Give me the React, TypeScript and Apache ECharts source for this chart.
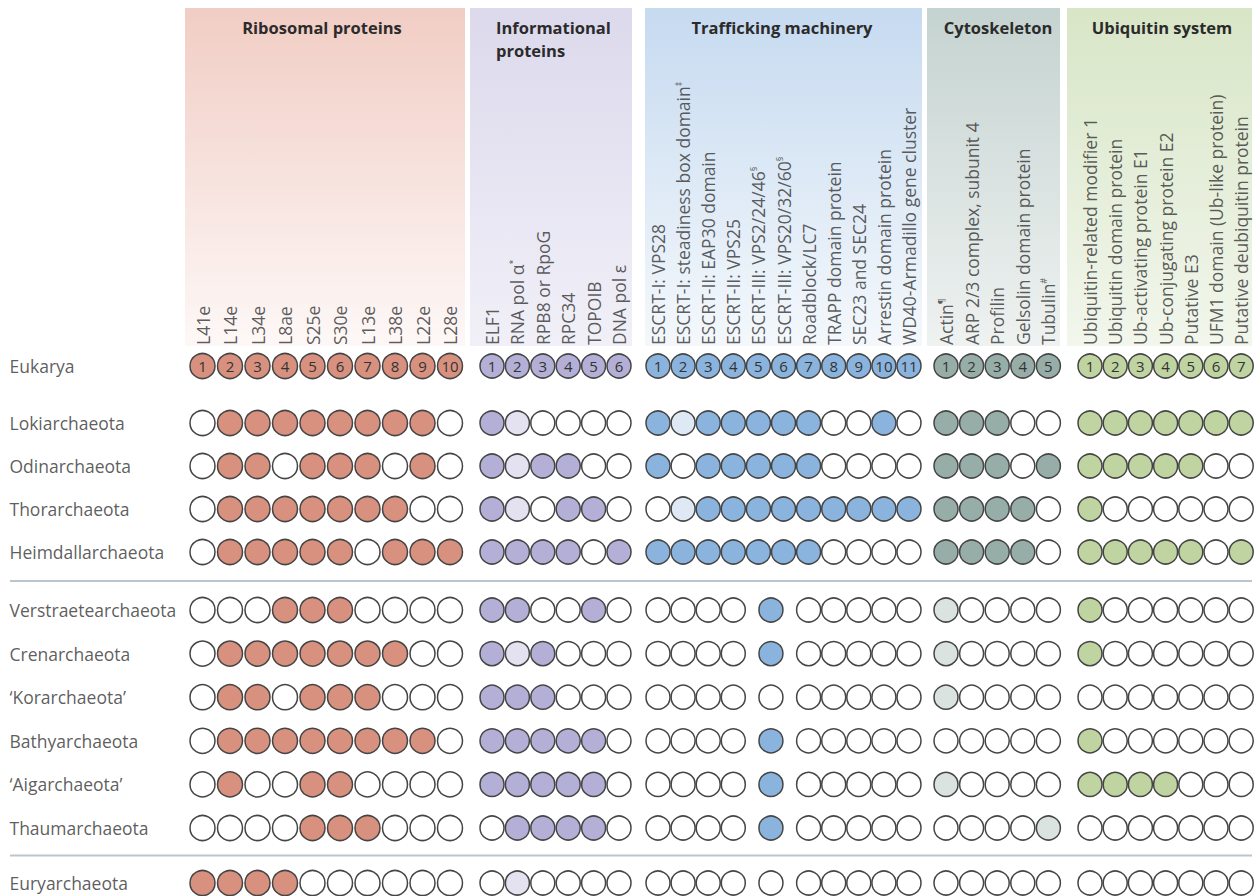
import React, { useEffect, useRef } from "react";
import * as echarts from "echarts";

// ---------- DATA ----------
const groupTitles = ["Ribosomal proteins", "Informational\nproteins", "Trafficking machinery", "Cytoskeleton", "Ubiquitin system"];

// label text, optional superscript mark after "|"
const ribosomalLabels = ["L41e", "L14e", "L34e", "L8ae", "S25e", "S30e", "L13e", "L38e", "L22e", "L28e"];
const informationalLabels = ["ELF1", "RNA pol α|*", "RPB8 or RpoG", "RPC34", "TOPOIB", "DNA pol ε"];
const traffickingLabels = [
  "ESCRT-I: VPS28",
  "ESCRT-I: steadiness box domain|‡",
  "ESCRT-II: EAP30 domain",
  "ESCRT-II: VPS25",
  "ESCRT-III: VPS2/24/46|§",
  "ESCRT-III: VPS20/32/60|§",
  "Roadblock/LC7",
  "TRAPP domain protein",
  "SEC23 and SEC24",
  "Arrestin domain protein",
  "WD40-Armadillo gene cluster",
];
const cytoskeletonLabels = ["Actin|¶", "ARP 2/3 complex, subunit 4", "Profilin", "Gelsolin domain protein", "Tubulin|#"];
const ubiquitinLabels = [
  "Ubiquitin-related modifier 1",
  "Ubiquitin domain protein",
  "Ub-activating protein E1",
  "Ub-conjugating protein E2",
  "Putative E3",
  "UFM1 domain (Ub-like protein)",
  "Putative deubiquitin protein",
];

// presence: 1 = present, 2 = weak / partial, 0 = absent, x = merged with previous column
const eukarya = ["1111111111", "111111", "11111111111", "11111", "1111111"];
const lokiarchaeota = ["0111111110", "120000", "12111110010", "11100", "1111111"];
const odinarchaeota = ["0110111010", "121100", "10111110000", "11101", "1111100"];
const thorarchaeota = ["0111111100", "120110", "02111111111", "11110", "1000000"];
const heimdallarchaeota = ["0111110111", "111101", "11111110000", "11110", "1111101"];
const verstraetearchaeota = ["0001110000", "110010", "00001x00000", "20000", "1000000"];
const crenarchaeota = ["0111111100", "121000", "00001x00000", "20000", "1000000"];
const korarchaeota = ["0110111000", "111000", "00000x00000", "20000", "0000000"];
const bathyarchaeota = ["0111111110", "111110", "00001x00000", "00000", "1000000"];
const aigarchaeota = ["0100110000", "111110", "00001x00000", "20000", "1111000"];
const thaumarchaeota = ["0000111000", "011110", "00001x00000", "00002", "0000000"];
const euryarchaeota = ["1111000000", "020000", "00000x00000", "00000", "0000000"];

const taxa = [
  { name: "Eukarya", block: 0, values: eukarya },
  { name: "Lokiarchaeota", block: 1, values: lokiarchaeota },
  { name: "Odinarchaeota", block: 1, values: odinarchaeota },
  { name: "Thorarchaeota", block: 1, values: thorarchaeota },
  { name: "Heimdallarchaeota", block: 1, values: heimdallarchaeota },
  { name: "Verstraetearchaeota", block: 2, values: verstraetearchaeota },
  { name: "Crenarchaeota", block: 2, values: crenarchaeota },
  { name: "‘Korarchaeota’", block: 2, values: korarchaeota },
  { name: "Bathyarchaeota", block: 2, values: bathyarchaeota },
  { name: "‘Aigarchaeota’", block: 2, values: aigarchaeota },
  { name: "Thaumarchaeota", block: 2, values: thaumarchaeota },
  { name: "Euryarchaeota", block: 3, values: euryarchaeota },
];

// ---------- LAYOUT / STYLE ----------
const groupLabels = [ribosomalLabels, informationalLabels, traffickingLabels, cytoskeletonLabels, ubiquitinLabels];
const groupLayout = [
  { start: 202.5, step: 27.5, size: 25, box: [185, 465], title: { x: 322, align: "center" } },
  { start: 492, step: 25.4, size: 24, box: [470, 632], title: { x: 496, align: "left" } },
  { start: 658, step: 25.1, size: 24, box: [645, 922], title: { x: 782, align: "center" } },
  { start: 946, step: 25.6, size: 24, box: [927, 1060], title: { x: 998, align: "center" } },
  { start: 1090, step: 25.2, size: 24, box: [1067, 1252], title: { x: 1162, align: "center" } },
];
const fullColors = ["#d9917f", "#b4afd6", "#8ab4de", "#97aea8", "#bfd4a1"];
const weakColors = ["#f3dcd6", "#e4e2f1", "#dfe9f5", "#dbe3e1", "#e8f0dc"];
const boxTop = ["#f1cdc4", "#dcd9ec", "#c6daf0", "#c5d3d0", "#d8e6c7"];
const boxBottom = ["#fdf8f7", "#f1f0f8", "#f4f8fc", "#eef2f1", "#f2f6ec"];

const blockStart = [366, 423, 610, 883];
const blockStep = [0, 43, 43.6, 0];
const headerBase = 345;
const FONT = "'Open Sans', 'Noto Sans', sans-serif";
const TEXT = "#333333";

function rowY(index: number) {
  const t = taxa[index];
  const first = taxa.findIndex((d) => d.block === t.block);
  return blockStart[t.block] + (index - first) * blockStep[t.block];
}

function colX(g: number, i: number) {
  const L = groupLayout[g];
  return L.start + i * L.step;
}

export default function App() {
  const ref = useRef<HTMLDivElement>(null);

  useEffect(() => {
    document.body.style.margin = "0";
    const chart = echarts.init(ref.current!, null, { renderer: "svg" });

    const circles: any[] = [];
    taxa.forEach((t, r) => {
      const y = rowY(r);
      t.values.forEach((s, g) => {
        const L = groupLayout[g];
        for (let i = 0; i < s.length; i++) {
          const ch = s[i];
          if (ch === "x") continue;
          let x = colX(g, i);
          if (s[i + 1] === "x") x += L.step / 2;
          const color = ch === "1" ? fullColors[g] : ch === "2" ? weakColors[g] : "#ffffff";
          const item: any = {
            value: [x, y],
            symbolSize: L.size,
            itemStyle: { color },
          };
          if (t.block === 0) {
            item.label = { show: true, formatter: String(i + 1) };
          }
          circles.push(item);
        }
      });
    });

    const headers: any[] = [];
    groupLabels.forEach((labels, g) => {
      labels.forEach((lab, i) => {
        const [main, sup] = lab.split("|");
        headers.push({
          value: [colX(g, i), headerBase],
          label: { formatter: sup ? `${main}{s|${sup}}` : main },
        });
      });
    });

    const rowLabels = taxa.map((t, r) => ({ value: [9, rowY(r)], name: t.name }));

    const graphics: any[] = [];
    groupLayout.forEach((L, g) => {
      graphics.push({
        type: "rect",
        z: 0,
        silent: true,
        shape: { x: L.box[0], y: 8, width: L.box[1] - L.box[0], height: headerBase + 1 - 8 },
        style: {
          fill: new echarts.graphic.LinearGradient(0, 0, 0, 1, [
            { offset: 0, color: boxTop[g] },
            { offset: 1, color: boxBottom[g] },
          ]),
        },
      });
      graphics.push({
        type: "text",
        z: 1,
        x: L.title.x,
        y: 16,
        style: {
          text: groupTitles[g],
          fill: "#2b2b2b",
          font: `bold 16.5px ${FONT}`,
          align: L.title.align,
          verticalAlign: "top",
          lineHeight: 23,
        },
      });
    });
    // separators between taxon blocks
    [1, 2].forEach((b) => {
      const lastIdx = taxa.map((t) => t.block).lastIndexOf(b);
      const y = (rowY(lastIdx) + rowY(lastIdx + 1)) / 2;
      graphics.push({
        type: "line",
        z: 0,
        silent: true,
        shape: { x1: 10, y1: y, x2: 1252, y2: y },
        style: { stroke: "#b9c6ce", lineWidth: 2 },
      });
    });

    const option: any = {
      animation: false,
      backgroundColor: "#ffffff",
      grid: { left: 0, right: 0, top: 0, bottom: 0 },
      xAxis: { type: "value", min: 0, max: 1256, show: false },
      yAxis: { type: "value", min: 0, max: 896, inverse: true, show: false },
      graphic: graphics,
      series: [
        {
          type: "scatter",
          symbol: "circle",
          z: 3,
          silent: true,
          data: circles,
          itemStyle: { borderColor: "#454545", borderWidth: 1.5, opacity: 1 },
          label: {
            show: false,
            position: "inside",
            color: "#333",
            fontSize: 15,
            fontFamily: FONT,
          },
        },
        {
          type: "scatter",
          symbolSize: 1,
          z: 4,
          silent: true,
          itemStyle: { color: "rgba(0,0,0,0)" },
          data: headers,
          label: {
            show: true,
            position: "inside",
            rotate: 90,
            align: "left",
            verticalAlign: "middle",
            fontSize: 17.5,
            fontFamily: FONT,
            color: TEXT,
            rich: {
              s: { fontSize: 9, verticalAlign: "top", color: TEXT, fontFamily: FONT, padding: [0, 0, 8, 0] },
            },
          },
        },
        {
          type: "scatter",
          symbolSize: 1,
          z: 4,
          silent: true,
          itemStyle: { color: "rgba(0,0,0,0)" },
          data: rowLabels,
          label: {
            show: true,
            position: "right",
            distance: 0,
            formatter: "{b}",
            fontSize: 17.5,
            fontFamily: FONT,
            color: TEXT,
          },
        },
      ],
    };

    chart.setOption(option);
    return () => chart.dispose();
  }, []);

  return <div ref={ref} style={{ width: 1256, height: 896 }} />;
}
